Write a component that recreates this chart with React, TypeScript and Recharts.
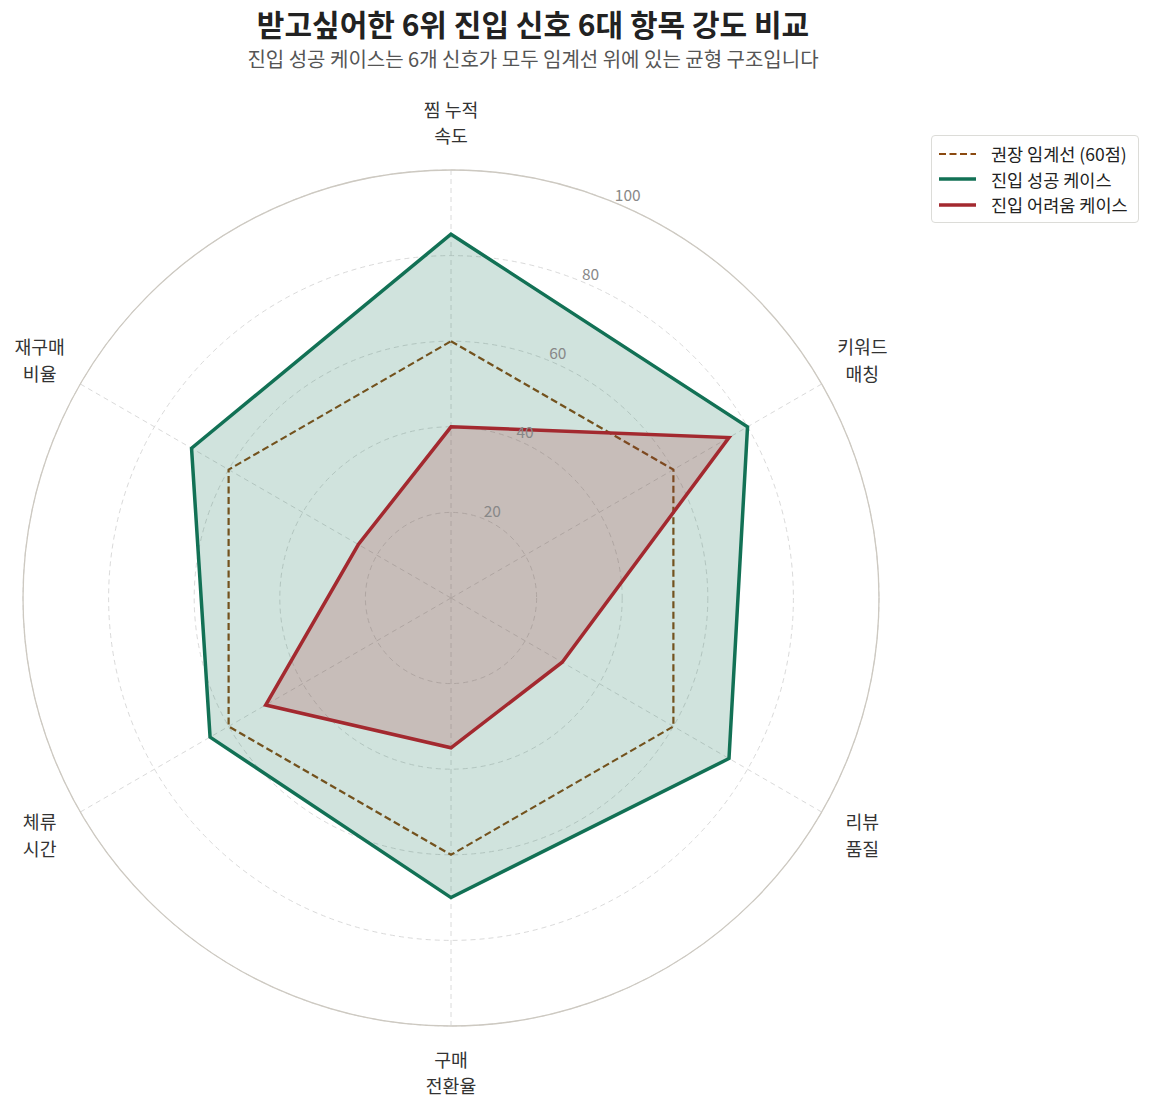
import {
  Legend,
  PolarAngleAxis,
  PolarGrid,
  PolarRadiusAxis,
  Radar,
  RadarChart,
} from 'recharts'

const FONT = '"Noto Sans CJK KR", "Noto Sans", sans-serif'

const THRESHOLD = '#8b4a10'
const SUCCESS = '#127155'
const HARD = '#a3292f'

// 항목 (시계방향, 위에서 시작)
const categories = ['찜 누적\n속도', '키워드\n매칭', '리뷰\n품질', '구매\n전환율', '체류\n시간', '재구매\n비율']
const thresholdValues = [60, 60, 60, 60, 60, 60]
const successValues = [85, 80, 75, 70, 65, 70]
const hardValues = [40, 75, 30, 35, 50, 25]
const radiusTicks = [20, 40, 60, 80, 100]

const data = categories.map((c, i) => ({
  subject: c,
  threshold: thresholdValues[i],
  success: successValues[i],
  hard: hardValues[i],
}))

const W = 1136
const H = 1092
const CX = 443
const CY = 590
const R = 428
const LABEL_R = 475

function AngleTick(props: any) {
  const { payload } = props
  const idx = categories.indexOf(payload.value)
  const ang = ((90 - idx * 60) * Math.PI) / 180
  const x = CX + LABEL_R * Math.cos(ang)
  const y = CY - LABEL_R * Math.sin(ang)
  const lines = String(payload.value).split('\n')
  return (
    <g>
      {lines.map((l, i) => (
        <text
          key={i}
          x={x}
          y={y + (i - (lines.length - 1) / 2) * 26.6 + 7}
          textAnchor="middle"
          fill="#333"
          fontSize={18.3}
          fontFamily={FONT}
        >
          {l}
        </text>
      ))}
    </g>
  )
}

function RadiusTick(props: any) {
  const { x, y, payload } = props
  return (
    <text x={x} y={y - 2} textAnchor="start" fill="#888" fontSize={15.5} fontFamily={FONT}>
      {payload.value}
    </text>
  )
}

const legendItems = [
  { label: '권장 임계선 (60점)', color: THRESHOLD, dash: '7 3.5', width: 2.2 },
  { label: '진입 성공 케이스', color: SUCCESS, dash: undefined, width: 3.5 },
  { label: '진입 어려움 케이스', color: HARD, dash: undefined, width: 3.5 },
]

function LegendBox() {
  return (
    <div
      style={{
        boxSizing: 'border-box',
        width: 208,
        height: 88,
        border: '1.5px solid #dcdcd8',
        borderRadius: 4,
        background: '#fff',
        padding: '5px 0 0 6px',
        fontFamily: FONT,
        fontSize: 17.5,
        color: '#222',
        whiteSpace: 'nowrap',
      }}
    >
      {legendItems.map((it) => (
        <div key={it.label} style={{ display: 'flex', alignItems: 'center', height: 25.5 }}>
          <svg width={40} height={10} style={{ marginRight: 13, flexShrink: 0 }}>
            <line x1={1} y1={5} x2={38} y2={5} stroke={it.color} strokeWidth={it.width} strokeDasharray={it.dash} />
          </svg>
          <span>{it.label}</span>
        </div>
      ))}
    </div>
  )
}

export default function App() {
  return (
    <div style={{ position: 'relative', width: W, height: H, background: '#fff', fontFamily: FONT }}>
      <div
        style={{
          position: 'absolute',
          left: 0,
          width: 1050,
          top: 0,
          textAlign: 'center',
          fontSize: 30,
          lineHeight: '30px',
          fontWeight: 700,
          color: '#222',
        }}
      >
        받고싶어한 6위 진입 신호 6대 항목 강도 비교
      </div>
      <div
        style={{
          position: 'absolute',
          left: 0,
          width: 1050,
          top: 41,
          textAlign: 'center',
          fontSize: 20,
          lineHeight: '20px',
          color: '#555',
        }}
      >
        진입 성공 케이스는 6개 신호가 모두 임계선 위에 있는 균형 구조입니다
      </div>
      <RadarChart width={W} height={H} data={data} cx={CX} cy={CY} outerRadius={R} margin={{ top: 0, right: 0, bottom: 0, left: 0 }}>
        <PolarGrid gridType="circle" stroke="#dadada" strokeDasharray="5 4" strokeWidth={1} />
        <PolarGrid gridType="circle" polarRadius={[R]} radialLines={false} stroke="#cdc9c1" strokeWidth={1.3} />
        <PolarAngleAxis dataKey="subject" tick={AngleTick} tickLine={false} axisLine={false} />
        <PolarRadiusAxis
          angle={67.5}
          domain={[0, 100]}
          ticks={radiusTicks}
          tick={RadiusTick}
          axisLine={false}
          tickLine={false}
        />
        <Radar
          dataKey="threshold"
          name="권장 임계선 (60점)"
          stroke={THRESHOLD}
          strokeWidth={2.2}
          strokeDasharray="7 3.5"
          fill="none"
          fillOpacity={0}
          isAnimationActive={false}
          dot={false}
        />
        <Radar
          dataKey="success"
          name="진입 성공 케이스"
          stroke={SUCCESS}
          strokeWidth={3.5}
          fill={SUCCESS}
          fillOpacity={0.2}
          isAnimationActive={false}
          dot={false}
        />
        <Radar
          dataKey="hard"
          name="진입 어려움 케이스"
          stroke={HARD}
          strokeWidth={3.5}
          fill={HARD}
          fillOpacity={0.2}
          isAnimationActive={false}
          dot={false}
        />
        <Legend
          layout="vertical"
          verticalAlign="top"
          align="right"
          content={() => <LegendBox />}
          wrapperStyle={{ position: 'absolute', left: 923, top: 127, width: 'auto' }}
        />
      </RadarChart>
    </div>
  )
}
